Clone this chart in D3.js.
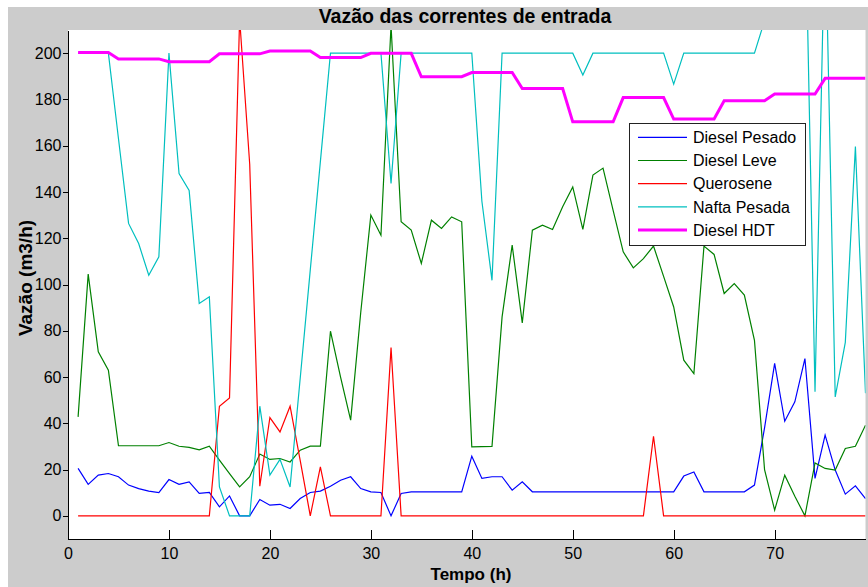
<!DOCTYPE html>
<html>
<head>
<meta charset="utf-8">
<script src="https://cdn.jsdelivr.net/npm/d3@7/dist/d3.min.js"></script>
<style>
  html, body { margin: 0; padding: 0; background: #ffffff; }
  svg { display: block; }
  text { font-family: "Liberation Sans", Arial, Helvetica, sans-serif; fill: #000; }
</style>
</head>
<body>
<svg id="chart" width="868" height="587"></svg>
<script>
// Hourly inlet flow rates (m3/h), hours 1..79
const hours = d3.range(1, 80);

const dieselPesado = [
  20.5, 13.6, 17.6, 18.3, 16.9, 13.3, 11.8, 10.7, 10.1, 15.7,
  13.6, 14.7, 9.7, 10.1, 3.9, 8.6, 0, 0, 7.1, 4.6,
  5.0, 3.2, 7.5, 10.1, 10.7, 12.8, 15.4, 16.9, 11.8, 10.4,
  10.1, 0, 9.7, 10.4, 10.4, 10.4, 10.4, 10.4, 10.4, 25.8,
  16.2, 16.9, 16.9, 11.1, 14.7, 10.4, 10.4, 10.4, 10.4, 10.4,
  10.4, 10.4, 10.4, 10.4, 10.4, 10.4, 10.4, 10.4, 10.4, 10.4,
  17.2, 19.0, 10.4, 10.4, 10.4, 10.4, 10.4, 13.3, 38, 65.9,
  40.9, 49.3, 68.0, 16.2, 34.9, 19.8, 9.4, 13.0, 7.5
];

const dieselLeve = [
  42.8, 104.5, 70.9, 63, 30.3, 30.3, 30.3, 30.3, 30.3, 31.7,
  30.1, 29.6, 28.5, 30.1, 24.1, 18.3, 12.5, 16.9, 26.7, 24.4,
  24.8, 23.3, 28.4, 30.1, 30.1, 79.8, 60, 41.4, 88, 130,
  121.3, 212, 127.1, 123.5, 109.1, 127.8, 124.2, 129.2, 127.1, 29.8,
  29.9, 30, 86, 117, 83.4, 123.5, 125.6, 123.8, 133.6, 142.2,
  123.8, 147.3, 150.3, 132, 114.1, 107.2, 111.2, 116.6, 103.5, 90.3,
  67.3, 61.5, 116.6, 113, 96.1, 100.4, 95.4, 75.9, 20, 2.5,
  17.6, 8.5, 0, 22.9, 20.5, 19.8, 29.1, 30.1, 39.2
];

const querosene = [
  0, 0, 0, 0, 0, 0, 0, 0, 0, 0,
  0, 0, 0, 0, 47.4, 51, 215, 152, 12.8, 42.5,
  36.3, 47.4, 24, 0, 21.2, 0, 0, 0, 0, 0,
  0, 72.8, 0, 0, 0, 0, 0, 0, 0, 0,
  0, 0, 0, 0, 0, 0, 0, 0, 0, 0,
  0, 0, 0, 0, 0, 0, 0, 34.4, 0, 0,
  0, 0, 0, 0, 0, 0, 0, 0, 0, 0,
  0, 0, 0, 0, 0, 0, 0, 0, 0
];

const naftaPesada = [
  200, 200, 200, 200, 163, 126.4, 117.7, 104, 112, 200,
  148, 140.7, 91.8, 94.7, 12.5, 0, 0, 0, 47.4, 17.6,
  24.4, 12.5, 59.4, 106.3, 153.1, 200, 200, 200, 200, 200,
  200, 143.7, 200, 200, 200, 200, 200, 200, 200, 200,
  136, 101.8, 200, 200, 200, 200, 200, 200, 200, 200,
  190.5, 200, 200, 200, 200, 200, 200, 200, 200, 186.6,
  200, 200, 200, 200, 200, 200, 200, 200, 214, 225,
  230, 240, 270, 53.6, 260, 51.4, 75, 159.6, 53
];

const dieselHDT = [
  200.3, 200.3, 200.3, 200.3, 197.5, 197.5, 197.5, 197.5, 197.5, 196.3,
  196.3, 196.3, 196.3, 196.3, 199.7, 199.7, 199.7, 199.7, 199.7, 200.9,
  200.9, 200.9, 200.9, 200.9, 198.1, 198.1, 198.1, 198.1, 198.1, 199.9,
  199.9, 199.9, 199.9, 199.9, 189.8, 189.8, 189.8, 189.8, 189.8, 191.6,
  191.6, 191.6, 191.6, 191.6, 184.7, 184.7, 184.7, 184.7, 184.7, 170.3,
  170.3, 170.3, 170.3, 170.3, 180.8, 180.8, 180.8, 180.8, 180.8, 171.5,
  171.5, 171.5, 171.5, 171.5, 179.4, 179.4, 179.4, 179.4, 179.4, 182.3,
  182.3, 182.3, 182.3, 182.3, 189.1, 189.1, 189.1, 189.1, 189.1
];

const seriesNames = ["Diesel Pesado", "Diesel Leve", "Querosene", "Nafta Pesada", "Diesel HDT"];
const seriesValues = [dieselPesado, dieselLeve, querosene, naftaPesada, dieselHDT];
const seriesColors = ["#0000ff", "#008000", "#ff0000", "#00bfbf", "#ff00ff"];
const seriesWidths = [1.2, 1.2, 1.2, 1.2, 3];

const xTicks = [0, 10, 20, 30, 40, 50, 60, 70];
const yTicks = [0, 20, 40, 60, 80, 100, 120, 140, 160, 180, 200];

const titleText = "Vazão das correntes de entrada";
const xLabelText = "Tempo (h)";
const yLabelText = "Vazão (m3/h)";

// Layout
const W = 868, H = 587;
const plot = { left: 68, right: 865.5, top: 30, bottom: 539 };

const svg = d3.select("#chart");

// Figure background
svg.append("rect").attr("x", 0).attr("y", 0).attr("width", W).attr("height", H).attr("fill", "#ffffff");
svg.append("rect").attr("x", 8).attr("y", 7).attr("width", W - 8).attr("height", H - 7).attr("fill", "#cccccc");

// Axes background
svg.append("rect")
  .attr("x", plot.left).attr("y", plot.top)
  .attr("width", plot.right - plot.left).attr("height", plot.bottom - plot.top)
  .attr("fill", "#ffffff");

const x = d3.scaleLinear().domain([0, 79]).range([plot.left, plot.right]);
const y = d3.scaleLinear().domain([-10, 210]).range([plot.bottom, plot.top]);

svg.append("clipPath").attr("id", "plotClip")
  .append("rect")
  .attr("x", plot.left).attr("y", plot.top)
  .attr("width", plot.right - plot.left).attr("height", plot.bottom - plot.top);

// Series lines
const line = d3.line()
  .x((d, i) => x(hours[i]))
  .y(d => y(d));

const linesG = svg.append("g").attr("clip-path", "url(#plotClip)");
seriesValues.forEach((vals, k) => {
  linesG.append("path")
    .datum(vals)
    .attr("fill", "none")
    .attr("stroke", seriesColors[k])
    .attr("stroke-width", seriesWidths[k])
    .attr("stroke-linejoin", "miter")
    .attr("d", line);
});

// Y axis (ticks outside)
const yAxis = svg.append("g")
  .attr("transform", `translate(${plot.left},0)`)
  .call(d3.axisLeft(y).tickValues(yTicks).tickSize(5).tickSizeOuter(0).tickPadding(1.5));
yAxis.selectAll("text").style("font-size", "16px").attr("fill", "#000");

// X axis (ticks inside)
const xAxis = svg.append("g")
  .attr("transform", `translate(0,${plot.bottom})`)
  .call(d3.axisBottom(x).tickValues(xTicks).tickSize(-9).tickSizeOuter(0));
xAxis.selectAll("text").style("font-size", "16px").attr("y", 20.3).attr("dy", null).attr("fill", "#000");

svg.selectAll(".domain, .tick line")
  .attr("stroke", "#000").attr("stroke-width", 1).attr("shape-rendering", "crispEdges");

// Title and axis labels
svg.append("text")
  .attr("x", 465).attr("y", 23.3)
  .attr("text-anchor", "middle")
  .style("font-size", "19.5px").style("font-weight", "bold")
  .text(titleText);

svg.append("text")
  .attr("x", 471).attr("y", 580)
  .attr("text-anchor", "middle")
  .style("font-size", "17px").style("font-weight", "bold")
  .text(xLabelText);

svg.append("text")
  .attr("transform", "translate(32,278) rotate(-90)")
  .attr("text-anchor", "middle")
  .style("font-size", "19px").style("font-weight", "bold")
  .text(yLabelText);

// Legend
const legend = { x: 629.5, y: 123.5, w: 176, h: 121.5, rowTop: 137.3, rowStep: 23.2 };
const legG = svg.append("g");
legG.append("rect")
  .attr("x", legend.x).attr("y", legend.y)
  .attr("width", legend.w).attr("height", legend.h)
  .attr("fill", "#ffffff").attr("stroke", "#222").attr("stroke-width", 1)
  .attr("shape-rendering", "crispEdges");

seriesNames.forEach((name, k) => {
  const cy = legend.rowTop + k * legend.rowStep;
  legG.append("line")
    .attr("x1", 638).attr("x2", 687)
    .attr("y1", cy).attr("y2", cy)
    .attr("stroke", seriesColors[k])
    .attr("stroke-width", seriesWidths[k]);
  legG.append("text")
    .attr("x", 693).attr("y", cy)
    .attr("dy", "0.36em")
    .style("font-size", "16px")
    .text(name);
});
</script>
</body>
</html>
